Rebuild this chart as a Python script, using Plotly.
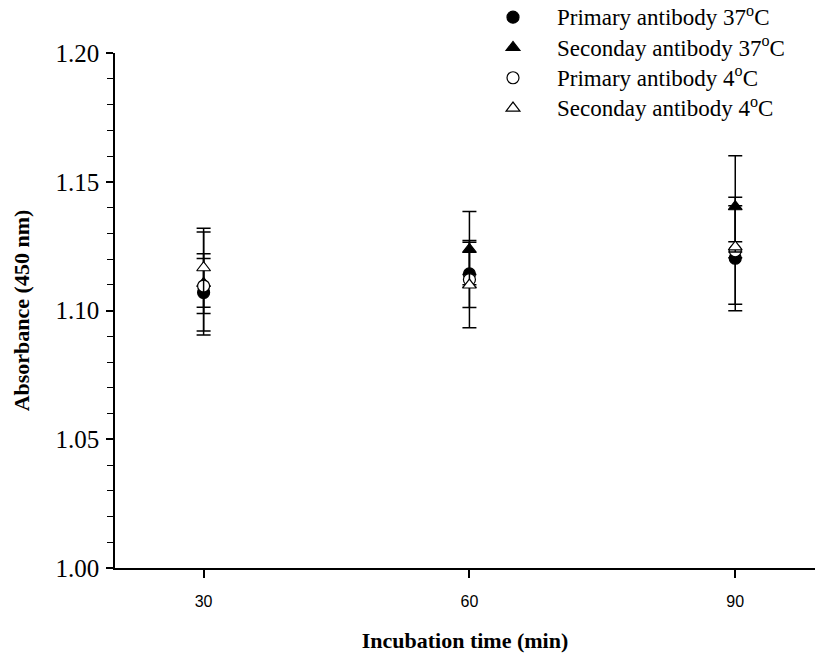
import plotly.graph_objects as go

times = [30, 60, 90]

primary_37 = [1.1070, 1.1142, 1.1203]
primary_37_err = [0.0150, 0.0130, 0.0204]

secondary_37 = [1.1105, 1.1237, 1.1403]
secondary_37_err = [0.0200, 0.0147, 0.0198]

primary_4 = [1.1095, 1.1120, 1.1232]
primary_4_err = [0.0107, 0.0020, 0.0208]

secondary_4 = [1.1166, 1.1099, 1.1247]
secondary_4_err = [0.0153, 0.0166, 0.0020]

names = [
    "Primary antibody 37<sup>o</sup>C",
    "Seconday antibody 37<sup>o</sup>C",
    "Primary antibody 4<sup>o</sup>C",
    "Seconday antibody 4<sup>o</sup>C",
]

y_ticks = [1.00, 1.05, 1.10, 1.15, 1.20]

series = [
    (primary_37, primary_37_err, "circle", "black"),
    (secondary_37, secondary_37_err, "triangle-up", "black"),
    (primary_4, primary_4_err, "circle", "white"),
    (secondary_4, secondary_4_err, "triangle-up", "white"),
]

fig = go.Figure()
for i, (vals, errs, sym, fill) in enumerate(series):
    fig.add_trace(go.Scatter(
        x=times, y=vals, mode="markers",
        name='<span style="font-size:23px">' + names[i] + '</span>',
        marker=dict(symbol=sym, size=12, color=fill,
                    line=dict(color="black", width=1.2)),
        error_y=dict(type="data", array=errs, visible=True,
                     color="black", thickness=1.5, width=7),
    ))

serif = "Liberation Serif"
W, H = 815, 659
L, R, T, B = 115, 0, 53, 91
pw = W - L - R
ph = H - T - B

fig.update_layout(
    width=W, height=H,
    margin=dict(l=L, r=R, t=T, b=B, pad=0, autoexpand=False),
    paper_bgcolor="white", plot_bgcolor="white",
    font=dict(family=serif, color="black", size=21),
    showlegend=True,
    legend=dict(
        xref="container", yref="container",
        x=469 / W, y=1 - 63 / H, xanchor="left", yanchor="middle",
        bgcolor="rgba(0,0,0,0)", font=dict(family=serif, size=21, color="black"),
        itemwidth=78,
    ),
    xaxis=dict(
        range=[20, 99], tickvals=times, ticktext=[str(t) for t in times],
        showgrid=False, zeroline=False, showline=True, linecolor="black", linewidth=1.5,
        ticks="outside", ticklen=8, tickwidth=1.5, tickcolor="black",
        ticklabelstandoff=10,
        tickfont=dict(family="Liberation Sans", size=16, color="black"),
        title=dict(text="<b>Incubation time (min)</b>",
                   font=dict(family=serif, size=22, color="black"), standoff=24),
    ),
    yaxis=dict(
        range=[1.0, 1.2], tickvals=y_ticks, tickformat=".2f",
        showgrid=False, zeroline=False, showline=True, linecolor="black", linewidth=1.5,
        ticks="outside", ticklen=7, tickwidth=1.5, tickcolor="black",
        ticklabelstandoff=2,
        tickfont=dict(family=serif, size=25, color="black"),
        minor=dict(dtick=0.01, ticks="outside", ticklen=6, tickwidth=1.2, tickcolor="black"),
        title=dict(text="<b>Absorbance (450 nm)</b>",
                   font=dict(family=serif, size=22, color="black"), standoff=20),
    ),
)

# x-axis line extends slightly left of the y-axis, as in the reference
fig.add_shape(type="line", xref="paper", yref="paper",
              x0=-8 / pw, x1=0, y0=0, y1=0,
              line=dict(color="black", width=1.5))

fig.write_html("out.html", config={"displayModeBar": False},
               post_script="document.body.style.margin='0';document.body.style.overflow='hidden';")
